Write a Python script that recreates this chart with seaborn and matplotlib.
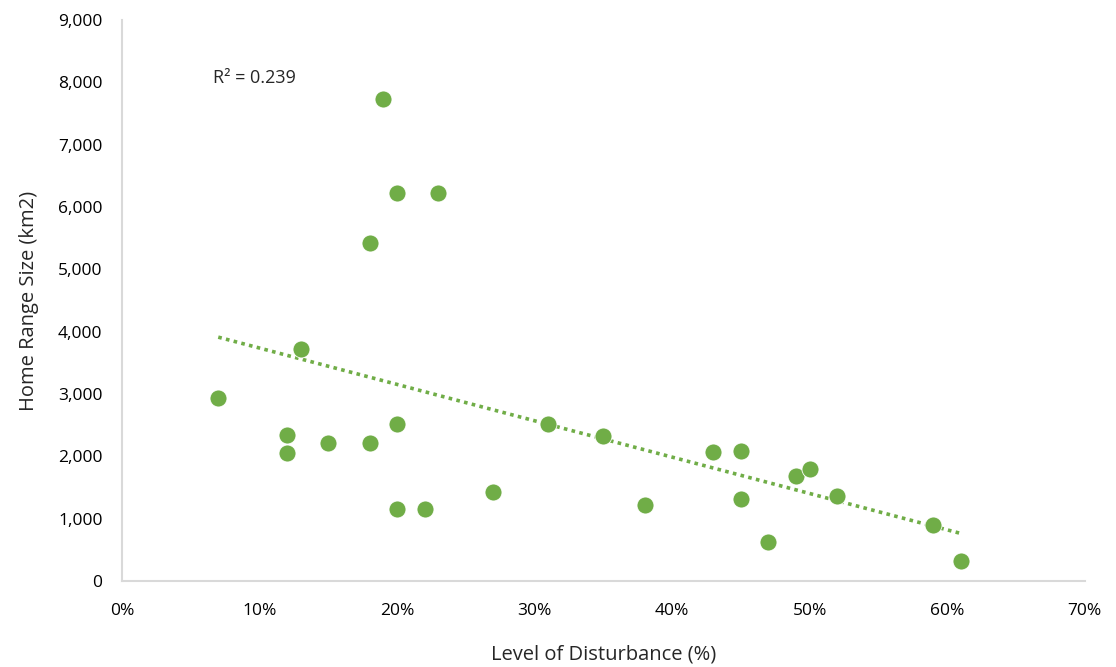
import pandas as pd
import matplotlib
matplotlib.use("Agg")
import matplotlib.pyplot as plt
import matplotlib.ticker as mticker
import seaborn as sns

# level of disturbance (fraction) and home range size (km2)
disturbance = [0.07, 0.13, 0.12, 0.12, 0.15, 0.18, 0.20, 0.20, 0.22, 0.27,
               0.31, 0.35, 0.38, 0.43, 0.45, 0.45, 0.47, 0.49, 0.50, 0.52,
               0.59, 0.61, 0.19, 0.20, 0.23, 0.18]
home_range = [2930, 3720, 2340, 2050, 2215, 2215, 2520, 1156, 1156, 1425,
              2520, 2330, 1215, 2065, 2085, 1315, 630, 1690, 1800, 1360,
              905, 325, 7740, 6230, 6230, 5430]
r2_text = "R² = 0.239"

df = pd.DataFrame({'Disturbance': disturbance, 'HomeRange': home_range})

green = '#70AD47'
sns.set_style('white')
plt.rcParams['font.family'] = ['Open Sans', 'DejaVu Sans']

fig = plt.figure(figsize=(11.16, 6.67), dpi=100)
ax = fig.add_axes([0.1093, 0.129, 0.8627, 0.841])

sns.regplot(data=df, x='Disturbance', y='HomeRange', scatter=False, ci=None,
            color=green, ax=ax,
            line_kws={'linestyle': (0, (1, 1.2)), 'linewidth': 2.6})
sns.scatterplot(data=df, x='Disturbance', y='HomeRange', color=green, s=150,
                edgecolor='white', linewidth=0.6, ax=ax, zorder=3)

ax.set_xlim(0, 0.70)
ax.set_ylim(0, 9000)
ax.xaxis.set_major_locator(mticker.MultipleLocator(0.1))
ax.yaxis.set_major_locator(mticker.MultipleLocator(1000))
ax.xaxis.set_major_formatter(mticker.FuncFormatter(lambda v, p: f'{v*100:.0f}%'))
ax.yaxis.set_major_formatter(mticker.FuncFormatter(lambda v, p: f'{v:,.0f}'))
ax.tick_params(axis='both', length=0, labelsize=12.5, colors='#000000')
ax.tick_params(axis='x', pad=16)
ax.tick_params(axis='y', pad=14)

for side in ['top', 'right']:
    ax.spines[side].set_visible(False)
for side in ['left', 'bottom']:
    ax.spines[side].set_color('#d9d9d9')
    ax.spines[side].set_linewidth(1.5)

ax.set_xlabel('Level of Disturbance (%)', fontsize=14.5, labelpad=18)
ax.set_ylabel('Home Range Size (km2)', fontsize=14.5, labelpad=14)

ax.text(0.066, 8070, r2_text, fontsize=13, ha='left', va='center')

fig.savefig('out.png', dpi=100)
